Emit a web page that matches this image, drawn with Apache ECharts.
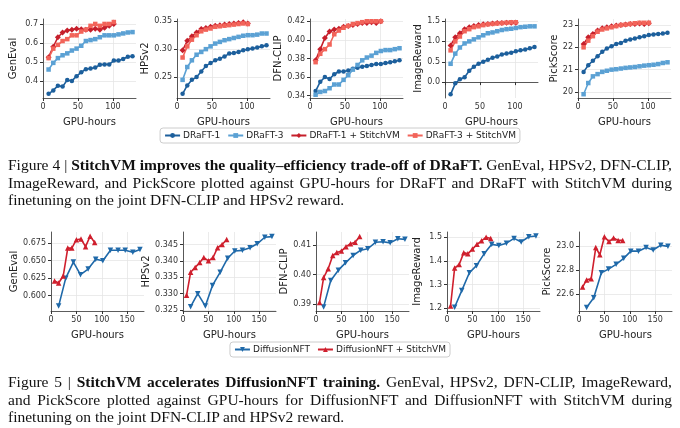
<!DOCTYPE html>
<html><head><meta charset="utf-8">
<script src="https://cdn.jsdelivr.net/npm/echarts@6/dist/echarts.min.js"></script>
<style>
body{margin:0;background:#fff;width:680px;height:428px;overflow:hidden;position:relative}
#c{position:absolute;left:0;top:0;width:680px;height:428px}
.cap{position:absolute;left:8px;width:664px;font-family:"Liberation Serif","DejaVu Serif",serif;font-size:15.5px;color:#111;white-space:nowrap;text-align:justify;text-align-last:justify;line-height:18px}
.cap.last{text-align-last:left}
</style></head><body>
<div id="c"></div>
<div class="cap" style="top:156px">Figure 4 | <b>StitchVM improves the quality–efficiency trade-off of DRaFT.</b> GenEval, HPSv2, DFN-CLIP,</div>
<div class="cap" style="top:174px">ImageReward, and PickScore plotted against GPU-hours for DRaFT and DRaFT with StitchVM during</div>
<div class="cap last" style="top:191px">finetuning on the joint DFN-CLIP and HPSv2 reward.</div>
<div class="cap" style="top:373px">Figure 5 | <b>StitchVM accelerates DiffusionNFT training.</b> GenEval, HPSv2, DFN-CLIP, ImageReward,</div>
<div class="cap" style="top:391px">and PickScore plotted against GPU-hours for DiffusionNFT and DiffusionNFT with StitchVM during</div>
<div class="cap last" style="top:408px">finetuning on the joint DFN-CLIP and HPSv2 reward.</div>
<script>
const metrics = ["GenEval","HPSv2","DFN-CLIP","ImageReward","PickScore"];
// Figure 4 x values
const xDraft = [8,14.7,21.3,28,34.7,41.3,48,54.7,61.3,68,74.7,81.3,88,94.7,101.3,108,114.7,121.3,128];
const xDraftStitch = [8,14.7,21.3,28,34.7,41.3,48,54.7,61.3,68,74.7,81.3,88,94.7,101.3];
const draft1 = [
 [0.332,0.35,0.375,0.37,0.405,0.4,0.425,0.445,0.462,0.465,0.47,0.485,0.487,0.487,0.507,0.507,0.515,0.527,0.53],
 [0.22,0.235,0.245,0.25,0.26,0.27,0.275,0.28,0.283,0.287,0.292,0.293,0.295,0.298,0.30,0.301,0.303,0.305,0.307],
 [0.345,0.355,0.36,0.358,0.363,0.366,0.366,0.367,0.369,0.37,0.371,0.372,0.373,0.374,0.374,0.375,0.376,0.377,0.378],
 [-0.3,-0.03,0.07,0.12,0.28,0.38,0.45,0.5,0.55,0.6,0.63,0.68,0.7,0.72,0.76,0.78,0.8,0.83,0.86],
 [20.9,21.2,21.4,21.6,21.8,21.95,22.05,22.15,22.2,22.3,22.35,22.4,22.45,22.5,22.55,22.58,22.6,22.62,22.65]];
const draft3 = [
 [0.46,0.495,0.52,0.535,0.545,0.56,0.57,0.585,0.61,0.615,0.62,0.63,0.64,0.64,0.64,0.645,0.65,0.655,0.657],
 [0.245,0.268,0.28,0.29,0.295,0.30,0.305,0.31,0.313,0.316,0.318,0.32,0.322,0.324,0.325,0.325,0.326,0.328,0.328],
 [0.341,0.344,0.345,0.348,0.352,0.352,0.357,0.362,0.368,0.373,0.378,0.381,0.383,0.386,0.388,0.389,0.389,0.39,0.391],
 [0.45,0.7,0.85,0.95,1.0,1.05,1.1,1.15,1.2,1.22,1.25,1.28,1.3,1.31,1.33,1.35,1.36,1.37,1.37],
 [19.9,20.4,20.7,20.8,20.9,20.95,21.0,21.02,21.05,21.08,21.1,21.12,21.15,21.18,21.2,21.22,21.25,21.3,21.33]];
const draft1Stitch = [
 [0.525,0.58,0.63,0.655,0.665,0.67,0.675,0.672,0.67,0.67,0.675,0.67,0.68,0.69,0.70],
 [0.298,0.315,0.323,0.33,0.336,0.338,0.34,0.342,0.343,0.344,0.345,0.346,0.347,0.348,0.346],
 [0.378,0.39,0.402,0.409,0.411,0.412,0.414,0.415,0.416,0.417,0.418,0.418,0.419,0.418,0.42],
 [0.9,1.1,1.2,1.3,1.35,1.38,1.4,1.42,1.43,1.44,1.45,1.45,1.46,1.46,1.46],
 [22.15,22.45,22.6,22.75,22.85,22.9,22.95,22.98,23.0,23.02,23.05,23.05,23.07,23.05,23.08]];
const draft3Stitch = [
 [0.52,0.57,0.59,0.61,0.62,0.64,0.64,0.66,0.67,0.69,0.70,0.69,0.70,0.70,0.71],
 [0.285,0.305,0.317,0.325,0.332,0.335,0.337,0.34,0.341,0.342,0.343,0.344,0.345,0.346,0.345],
 [0.376,0.385,0.39,0.395,0.406,0.41,0.413,0.415,0.417,0.418,0.419,0.42,0.42,0.42,0.42],
 [0.78,1.0,1.12,1.25,1.3,1.35,1.37,1.4,1.42,1.43,1.44,1.45,1.46,1.47,1.47],
 [22.0,22.3,22.5,22.7,22.8,22.85,22.9,22.95,23.0,23.02,23.05,23.08,23.1,23.1,23.1]];
// Figure 5
const xNft = [15,29,44,58,73,88,102,117,132,146,161,175];
const xNftStitch = [7,15,24,33,41,50,59,68,77,86];
const nft = [
 [0.585,0.625,0.648,0.63,0.638,0.652,0.65,0.665,0.665,0.665,0.662,0.666],
 [0.326,0.330,0.3262,0.3325,0.3365,0.3408,0.343,0.3432,0.344,0.3452,0.3472,0.3474],
 [0.389,0.398,0.4015,0.404,0.4065,0.4083,0.4088,0.411,0.4112,0.4108,0.4122,0.412],
 [1.205,1.275,1.35,1.38,1.43,1.47,1.465,1.475,1.495,1.48,1.502,1.505],
 [22.49,22.57,22.78,22.81,22.85,22.9,22.96,22.96,22.99,22.97,23.01,23.0]];
const nftStitch = [
 [0.621,0.618,0.628,0.668,0.668,0.68,0.681,0.67,0.685,0.676],
 [0.3295,0.3365,0.338,0.3395,0.341,0.340,0.341,0.344,0.345,0.3465],
 [0.3905,0.399,0.402,0.4065,0.4075,0.408,0.4095,0.4105,0.411,0.413],
 [1.21,1.37,1.385,1.435,1.43,1.45,1.47,1.485,1.5,1.495],
 [22.66,22.72,22.73,22.99,22.93,23.08,23.04,23.07,23.05,23.05]];
// axis ticks
const topTicks = [[0.4,0.5,0.6,0.7],[0.25,0.30,0.35],[0.34,0.36,0.38,0.40,0.42],[0.0,0.5,1.0,1.5],[20,21,22,23]];
const botTicks = [[0.600,0.625,0.650,0.675],[0.325,0.330,0.335,0.340,0.345],[0.39,0.40,0.41],[1.2,1.3,1.4,1.5],[22.6,22.8,23.0]];

const topRange=[[0.31,0.726,1],[0.2125,0.354,2],[0.3375,0.4224,2],[-0.39,1.55,1],[19.73,23.27,0]];
const botRange=[[0.578,0.691,3],[0.3247,0.3488,3],[0.3876,0.4145,2],[1.189,1.522,1],[22.46,23.12,1]];
const topLeft=[43,177,310,445,578], botLeft=[51,183,316,447,579];
const C={d1:'#1c5f9c',d3:'#5ba1d4',d1s:'#c61f2b',d3s:'#f2645a',n:'#1f69a9',ns:'#cf1f2d'};
const font='DejaVu Sans';
const grid=[],xAxis=[],yAxis=[],series=[];
function addPanel(i,left,top,range,ticks,xmax,xticks){
  const g=grid.length;
  grid.push({left:left,top:top,width:93,height:79});
  xAxis.push({type:'value',gridIndex:g,min:0,max:xmax,name:'GPU-hours',nameLocation:'middle',nameGap:19,
    nameTextStyle:{fontFamily:font,fontSize:10,color:'#222'},
    axisLine:{lineStyle:{color:'#333',width:0.8}},axisTick:{show:true,length:3,customValues:xticks,lineStyle:{color:'#333'}},
    axisLabel:{customValues:xticks,fontFamily:font,fontSize:8,color:'#333',margin:5},
    splitLine:{show:true,lineStyle:{color:'#e6e6e6',width:0.8}}});
  yAxis.push({type:'value',gridIndex:g,min:range[0],max:range[1],name:metrics[i],nameLocation:'middle',nameGap:i===3&&top<100?22:(range[2]>=3?32:(range[2]===0?18:25)),
    nameTextStyle:{fontFamily:font,fontSize:10,color:'#222'},
    axisLine:{show:true,lineStyle:{color:'#333',width:0.8}},axisTick:{show:true,length:3,customValues:ticks,lineStyle:{color:'#333'}},
    axisLabel:{customValues:ticks,fontFamily:font,fontSize:8,color:'#333',margin:5,formatter:v=>Number(v).toFixed(range[2])},
    splitLine:{show:true,lineStyle:{color:'#e6e6e6',width:0.8}}});
  return g;
}
function line(name,g,xs,ys,color,sym,size,rot){
  series.push({type:'line',name:name,xAxisIndex:g,yAxisIndex:g,data:xs.map((x,k)=>[x,ys[k]]),
    symbol:sym,symbolSize:size,symbolRotate:rot||0,showSymbol:true,itemStyle:{color:color},lineStyle:{color:color,width:1.6},animation:false});
}
for(let i=0;i<5;i++){
  const g=addPanel(i,topLeft[i],19,topRange[i],topTicks[i],133,[0,50,100]);
  line('DRaFT-1',g,xDraft,draft1[i],C.d1,'circle',4.5);
  line('DRaFT-3',g,xDraft,draft3[i],C.d3,'rect',4.5);
  line('DRaFT-1 + StitchVM',g,xDraftStitch,draft1Stitch[i],C.d1s,'diamond',6);
  line('DRaFT-3 + StitchVM',g,xDraftStitch,draft3Stitch[i],C.d3s,'rect',4.5);
}
for(let i=0;i<5;i++){
  const g=addPanel(i,botLeft[i],232,botRange[i],botTicks[i],183,[0,50,100,150]);
  line('DiffusionNFT',g,xNft,nft[i],C.n,'triangle',5.5,180);
  line('DiffusionNFT + StitchVM',g,xNftStitch,nftStitch[i],C.ns,'triangle',5.5);
}
const legStyle={orient:'horizontal',left:'center',itemWidth:15,itemHeight:6,itemGap:7,padding:[3,4],
  borderColor:'#ccc',borderWidth:1,borderRadius:3,textStyle:{fontFamily:font,fontSize:9,color:'#222',padding:[0,0,0,-2]}};
const chart=echarts.init(document.getElementById('c'));
chart.setOption({animation:false,grid,xAxis,yAxis,series,
  legend:[Object.assign({top:128,data:['DRaFT-1','DRaFT-3','DRaFT-1 + StitchVM','DRaFT-3 + StitchVM']},legStyle),
          Object.assign({top:342,data:['DiffusionNFT','DiffusionNFT + StitchVM']},legStyle)]});
</script></body></html>
